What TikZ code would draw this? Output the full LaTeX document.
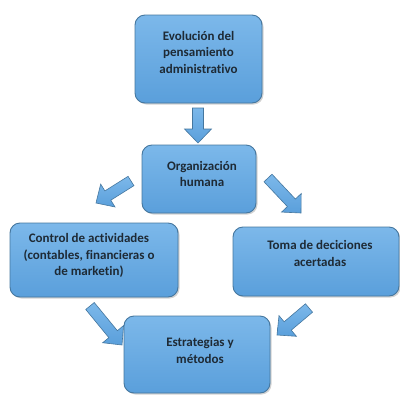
\documentclass[tikz,border=0pt]{standalone}
\usepackage{fontspec}
\setmainfont{Carlito}[Ligatures=NoCommon]
\usetikzlibrary{calc,shadows}
\definecolor{boxtop}{HTML}{7CB8EA}
\definecolor{boxbot}{HTML}{5A9FDB}
\definecolor{boxline}{HTML}{45779F}
\definecolor{txtcol}{HTML}{1E2A35}
\tikzset{
  boxnode/.style={draw=boxline, line width=0.9pt, rounded corners=10pt,
    top color=boxtop, bottom color=boxbot, inner sep=0pt,
    drop shadow={shadow xshift=1.5pt, shadow yshift=-1.5pt, opacity=0.35}},
  txtnode/.style={align=center, text=txtcol, inner sep=0pt,
    font=\fontsize{13}{16.5}\selectfont\bfseries},
  arrowstyle/.style={draw=boxline, line width=0.6pt, top color=boxtop, bottom color=boxbot,
    line join=miter}
}
\newcommand{\blockarrow}[2]{%
  \path[arrowstyle] let \p1=(#1), \p2=(#2),
    \n1={atan2(\y2-\y1,\x2-\x1)}, \n2={veclen(\x2-\x1,\y2-\y1)-14} in
    ($(\p1)+(\n1+90:5.5pt)$) --
    ($(\p1)+(\n1:{\n2*1pt})+(\n1+90:5.5pt)$) --
    ($(\p1)+(\n1:{\n2*1pt})+(\n1+90:13.5pt)$) --
    (\p2) --
    ($(\p1)+(\n1:{\n2*1pt})+(\n1-90:13.5pt)$) --
    ($(\p1)+(\n1:{\n2*1pt})+(\n1-90:5.5pt)$) --
    ($(\p1)+(\n1-90:5.5pt)$) -- cycle;}
\begin{document}
\begin{tikzpicture}[x=1pt,y=-1pt]
\useasboundingbox (0,0) rectangle (400,400);
\fill[white] (0,0) rectangle (400,400);
% boxes
\node[boxnode, minimum width=127pt, minimum height=88pt] (b1) at (198.5,59) {};
\node[boxnode, minimum width=114pt, minimum height=68pt] (b2) at (199,179) {};
\node[boxnode, minimum width=168pt, minimum height=74pt] (b3) at (94,260) {};
\node[boxnode, minimum width=166pt, minimum height=69pt] (b4) at (316,261.5) {};
\node[boxnode, minimum width=146pt, minimum height=77pt] (b5) at (197,354.5) {};
% texts
\node[txtnode] (t1) at ($(b1.center)+(0,-7)$) {Evolución del\\pensamiento\\administrativo};
\node[txtnode] (t2) at ($(b2.center)+(3,-5)$) {Organización\\humana};
\node[txtnode] (t3) at ($(b3.center)+(-5,-4.5)$) {Control de actividades\\(contables, financieras o\\de marketin)};
\node[txtnode] (t4) at ($(b4.center)+(4,-8)$) {Toma de deciciones\\acertadas};
\node[txtnode] (t5) at ($(b5.center)+(3,-4)$) {Estrategias y\\métodos};
% arrow ends
\coordinate (a1s) at (198,108);
\coordinate (a1e) at (198,143);
\coordinate (a2s) at (131,181);
\coordinate (a2e) at (96,203);
\coordinate (a3s) at (268,178);
\coordinate (a3e) at (301,213);
\coordinate (a4s) at (90,306);
\coordinate (a4e) at (122,345);
\coordinate (a5s) at (309,308);
\coordinate (a5e) at (277,335);
\blockarrow{a1s}{a1e}
\blockarrow{a2s}{a2e}
\blockarrow{a3s}{a3e}
\blockarrow{a4s}{a4e}
\blockarrow{a5s}{a5e}
\end{tikzpicture}
\end{document}
